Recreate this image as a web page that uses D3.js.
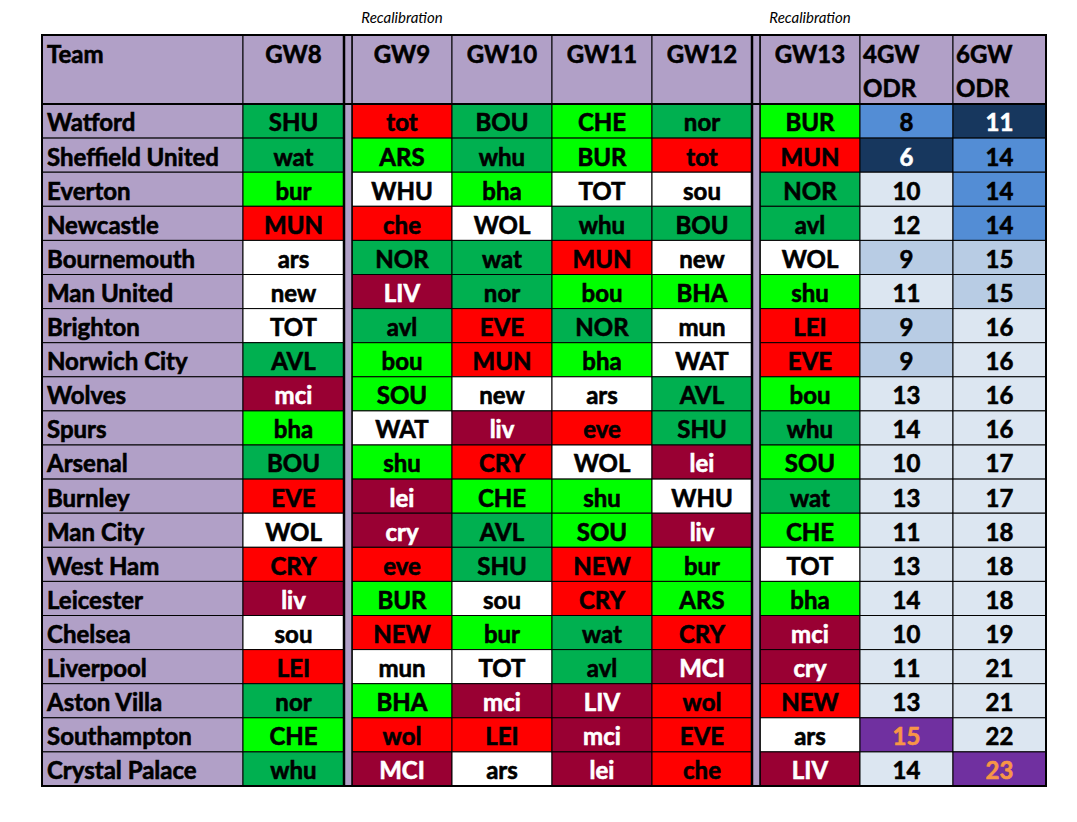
<!DOCTYPE html>
<html>
<head>
<meta charset="utf-8">
<script src="https://cdn.jsdelivr.net/npm/d3@7"></script>
<style>
  body { margin: 0; background: #fff; }
  svg text { font-family: Lato, "Open Sans", sans-serif; font-weight: bold; }
  svg text.cell { stroke-width: 0.6px; }
</style>
</head>
<body>
<svg width="1077" height="822"></svg>
<script>
var teams = ["Watford", "Sheffield United", "Everton", "Newcastle", "Bournemouth", "Man United",
  "Brighton", "Norwich City", "Wolves", "Spurs", "Arsenal", "Burnley", "Man City", "West Ham",
  "Leicester", "Chelsea", "Liverpool", "Aston Villa", "Southampton", "Crystal Palace"];

var gameweeks = ["GW8", "GW9", "GW10", "GW11", "GW12", "GW13"];

// opponents (upper case = home)
var gw8  = ["SHU","wat","bur","MUN","ars","new","TOT","AVL","mci","bha","BOU","EVE","WOL","CRY","liv","sou","LEI","nor","CHE","whu"];
var gw9  = ["tot","ARS","WHU","che","NOR","LIV","avl","bou","SOU","WAT","shu","lei","cry","eve","BUR","NEW","mun","BHA","wol","MCI"];
var gw10 = ["BOU","whu","bha","WOL","wat","nor","EVE","MUN","new","liv","CRY","CHE","AVL","SHU","sou","bur","TOT","mci","LEI","ars"];
var gw11 = ["CHE","BUR","TOT","whu","MUN","bou","NOR","bha","ars","eve","WOL","shu","SOU","NEW","CRY","wat","avl","LIV","mci","lei"];
var gw12 = ["nor","tot","sou","BOU","new","BHA","mun","WAT","AVL","SHU","lei","WHU","liv","bur","ARS","CRY","MCI","wol","EVE","che"];
var gw13 = ["BUR","MUN","NOR","avl","WOL","shu","LEI","EVE","bou","whu","SOU","wat","CHE","TOT","bha","mci","cry","NEW","ars","LIV"];

// fixture rating: 1 light green, 2 green, 3 white, 4 red, 5 dark red
var gw8Rating  = [2,2,1,4,3,3,3,2,5,1,2,4,3,4,5,3,4,2,1,2];
var gw9Rating  = [4,1,3,4,2,5,2,1,1,3,1,5,5,4,1,4,3,1,4,5];
var gw10Rating = [2,2,1,3,2,2,4,4,3,5,4,1,2,2,3,1,3,5,4,3];
var gw11Rating = [1,1,3,2,4,1,2,1,3,4,3,1,1,4,4,2,2,5,5,5];
var gw12Rating = [2,4,3,2,3,1,3,3,2,2,5,3,5,1,1,4,5,4,4,4];
var gw13Rating = [1,4,2,2,3,1,4,4,1,2,1,2,1,3,1,5,5,4,3,5];

var odr4 = [8,6,10,12,9,11,9,9,13,14,10,13,11,13,14,10,11,13,15,14];
var odr6 = [11,14,14,14,15,15,16,16,16,16,17,17,18,18,18,19,21,21,22,23];

var fixtures = [gw8, gw9, gw10, gw11, gw12, gw13];
var ratings = [gw8Rating, gw9Rating, gw10Rating, gw11Rating, gw12Rating, gw13Rating];

var svg = d3.select("svg");

var purple = "#b1a0c7";
var fontSize = "24px";
var ratingFill = d3.scaleOrdinal().domain([1,2,3,4,5])
    .range(["#00ff00", "#00b050", "#ffffff", "#ff0000", "#990033"]);
var ratingText = d3.scaleOrdinal().domain([1,2,3,4,5])
    .range(["#000", "#000", "#000", "#000", "#fff"]);

// column layout
var columns = [
  {key: "team", w: 201},
  {key: "GW8", w: 101},
  {key: "sep1", w: 8},
  {key: "GW9", w: 100},
  {key: "GW10", w: 100},
  {key: "GW11", w: 100},
  {key: "GW12", w: 100},
  {key: "sep2", w: 8},
  {key: "GW13", w: 100},
  {key: "odr4", w: 93},
  {key: "odr6", w: 93}
];
var tableLeft = 42, tableTop = 35, headerH = 69, tableBottom = 786;
var cx = tableLeft;
columns.forEach(function(c) { c.x = cx; cx += c.w; });
var col = {};
columns.forEach(function(c) { col[c.key] = c; });
var tableRight = cx;

var y = d3.scaleBand().domain(teams).range([tableTop + headerH, tableBottom]);
function rowMid(t) { return y(t) + y.bandwidth() / 2 + 2; }

// background
svg.append("rect")
    .attr("x", tableLeft).attr("y", tableTop)
    .attr("width", tableRight - tableLeft).attr("height", tableBottom - tableTop)
    .attr("fill", purple);

// header cells
var headers = [
  {key: "team", lines: ["Team"], anchor: "start"},
  {key: "GW8", lines: ["GW8"], anchor: "middle"},
  {key: "GW9", lines: ["GW9"], anchor: "middle"},
  {key: "GW10", lines: ["GW10"], anchor: "middle"},
  {key: "GW11", lines: ["GW11"], anchor: "middle"},
  {key: "GW12", lines: ["GW12"], anchor: "middle"},
  {key: "GW13", lines: ["GW13"], anchor: "middle"},
  {key: "odr4", lines: ["4GW", "ODR"], anchor: "start"},
  {key: "odr6", lines: ["6GW", "ODR"], anchor: "start"}
];

var head = svg.append("g");
headers.forEach(function(h) {
  var c = col[h.key];
  head.append("rect")
      .attr("x", c.x).attr("y", tableTop).attr("width", c.w).attr("height", headerH)
      .attr("fill", purple).attr("stroke", "#000").attr("stroke-width", 1);
  h.lines.forEach(function(t, i) {
    head.append("text")
        .attr("class", "cell")
        .attr("x", h.anchor === "start" ? c.x + (h.key === "team" ? 5 : 3) : c.x + c.w / 2)
        .attr("y", tableTop + 20 + i * 34)
        .attr("dy", "0.35em")
        .attr("text-anchor", h.anchor)
        .attr("stroke", "#000")
        .style("font-size", fontSize)
        .text(t);
  });
});

// team names
var body = svg.append("g");
body.selectAll(".team").data(teams).enter().append("rect")
    .attr("x", col.team.x).attr("y", function(d) { return y(d); })
    .attr("width", col.team.w).attr("height", y.bandwidth())
    .attr("fill", purple).attr("stroke", "#000").attr("stroke-width", 1);
body.selectAll(".teamLabel").data(teams).enter().append("text")
    .attr("class", "cell")
    .attr("x", col.team.x + 5)
    .attr("y", rowMid)
    .attr("dy", "0.35em")
    .attr("stroke", "#000")
    .style("font-size", fontSize)
    .text(function(d) { return d; });

// fixture cells
gameweeks.forEach(function(gw, gi) {
  var c = col[gw];
  var cells = teams.map(function(t, i) { return {team: t, opp: fixtures[gi][i], r: ratings[gi][i]}; });
  var g = body.append("g");
  g.selectAll("rect").data(cells).enter().append("rect")
      .attr("x", c.x).attr("y", function(d) { return y(d.team); })
      .attr("width", c.w).attr("height", y.bandwidth())
      .attr("fill", function(d) { return ratingFill(d.r); })
      .attr("stroke", "#000").attr("stroke-width", 1);
  g.selectAll("text").data(cells).enter().append("text")
      .attr("class", "cell")
      .attr("x", c.x + c.w / 2)
      .attr("y", function(d) { return rowMid(d.team); })
      .attr("dy", "0.35em")
      .attr("text-anchor", "middle")
      .attr("fill", function(d) { return ratingText(d.r); })
      .attr("stroke", function(d) { return ratingText(d.r); })
      .style("font-size", fontSize)
      .text(function(d) { return d.opp; });
});

// ODR cells: shaded by rank of the value within the column
function odrColumn(values, key) {
  var c = col[key];
  var distinct = Array.from(new Set(values)).sort(d3.ascending);
  var max = d3.max(values);
  function fill(v) {
    if (v === max) return "#7030a0";
    var r = distinct.indexOf(v);
    return ["#17375e", "#538dd5", "#b8cce4"][r] || "#dce6f1";
  }
  function txt(v) {
    if (v === max) return "#f79646";
    return distinct.indexOf(v) === 0 ? "#fff" : "#000";
  }
  var cells = teams.map(function(t, i) { return {team: t, v: values[i]}; });
  var g = body.append("g");
  g.selectAll("rect").data(cells).enter().append("rect")
      .attr("x", c.x).attr("y", function(d) { return y(d.team); })
      .attr("width", c.w).attr("height", y.bandwidth())
      .attr("fill", function(d) { return fill(d.v); })
      .attr("stroke", "#000").attr("stroke-width", 1);
  g.selectAll("text").data(cells).enter().append("text")
      .attr("class", "cell")
      .attr("x", c.x + c.w / 2)
      .attr("y", function(d) { return rowMid(d.team); })
      .attr("dy", "0.35em")
      .attr("text-anchor", "middle")
      .attr("fill", function(d) { return txt(d.v); })
      .attr("stroke", function(d) { return txt(d.v); })
      .style("font-size", fontSize)
      .text(function(d) { return d.v; });
}
odrColumn(odr4, "odr4");
odrColumn(odr6, "odr6");

// separator columns
["sep1", "sep2"].forEach(function(k) {
  var c = col[k];
  svg.append("rect")
      .attr("x", c.x).attr("y", tableTop).attr("width", c.w).attr("height", tableBottom - tableTop)
      .attr("fill", purple);
  svg.append("line")
      .attr("x1", c.x).attr("x2", c.x).attr("y1", tableTop).attr("y2", tableBottom)
      .attr("stroke", "#000").attr("stroke-width", 2.5);
  svg.append("line")
      .attr("x1", c.x + c.w).attr("x2", c.x + c.w).attr("y1", tableTop).attr("y2", tableBottom)
      .attr("stroke", "#000").attr("stroke-width", 1.5);
});

// header bottom and outer border
svg.append("line")
    .attr("x1", tableLeft).attr("x2", tableRight)
    .attr("y1", tableTop + headerH).attr("y2", tableTop + headerH)
    .attr("stroke", "#000").attr("stroke-width", 2);
svg.append("rect")
    .attr("x", tableLeft).attr("y", tableTop)
    .attr("width", tableRight - tableLeft).attr("height", tableBottom - tableTop)
    .attr("fill", "none").attr("stroke", "#000").attr("stroke-width", 2);

// recalibration notes
[col.GW9, col.GW13].forEach(function(c) {
  svg.append("text")
      .attr("x", c.x + c.w / 2)
      .attr("y", 18)
      .attr("dy", "0.35em")
      .attr("text-anchor", "middle")
      .style("font-size", "15px")
      .style("font-weight", "normal")
      .style("font-style", "italic")
      .text("Recalibration");
});
</script>
</body>
</html>
